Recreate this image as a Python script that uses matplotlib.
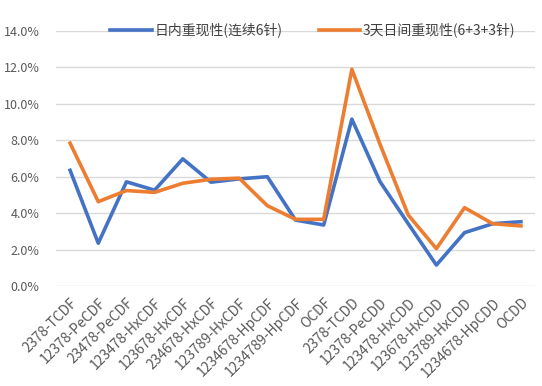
#!/usr/bin/env python3
import matplotlib
matplotlib.use("Agg")
import matplotlib.pyplot as plt
from matplotlib.ticker import PercentFormatter

plt.rcParams["font.family"] = ["Noto Sans CJK SC", "DejaVu Sans"]

congeners = [
    "2378-TCDF", "12378-PeCDF", "23478-PeCDF", "123478-HxCDF", "123678-HxCDF",
    "234678-HxCDF", "123789-HxCDF", "1234678-HpCDF", "1234789-HpCDF", "OCDF",
    "2378-TCDD", "12378-PeCDD", "123478-HxCDD", "123678-HxCDD", "123789-HxCDD",
    "1234678-HpCDD", "OCDD",
]
intra_day = [6.35, 2.35, 5.72, 5.26, 6.98, 5.70, 5.88, 6.0, 3.62, 3.35,
             9.16, 5.73, 3.42, 1.15, 2.93, 3.42, 3.53]
inter_day = [7.84, 4.63, 5.24, 5.14, 5.64, 5.86, 5.92, 4.41, 3.66, 3.66,
             11.9, 7.78, 3.9, 2.05, 4.3, 3.42, 3.3]
labels = ["日内重现性(连续6针)", "3天日间重现性(6+3+3针)"]

fig = plt.figure(figsize=(5.42, 3.86), dpi=100)
ax = fig.add_axes([56 / 542, 1 - 286 / 386, (535 - 56) / 542, (286 - 31) / 386])

x = range(len(congeners))
ax.plot(x, intra_day, color="#4472C4", lw=2.6, label=labels[0], solid_joinstyle="round")
ax.plot(x, inter_day, color="#ED7D31", lw=2.6, label=labels[1], solid_joinstyle="round")

ax.set_xlim(-0.5, len(congeners) - 0.5)
ax.set_ylim(0, 14)
ax.set_yticks(range(0, 15, 2))
ax.yaxis.set_major_formatter(PercentFormatter(decimals=1))
ax.grid(axis="y", color="#D9D9D9", lw=1)
ax.set_axisbelow(True)
for s in ax.spines.values():
    s.set_visible(False)
ax.tick_params(axis="both", length=0, labelcolor="#595959")
ax.tick_params(axis="y", pad=12, labelsize=9)
ax.set_xticks(list(x))
ax.set_xticklabels(congeners, rotation=45, ha="right", rotation_mode="anchor")
ax.tick_params(axis="x", pad=7, labelsize=10)

fig.legend(loc="center", bbox_to_anchor=(0.577, 1 - 30 / 386), ncol=2, frameon=False,
           fontsize=10, handlelength=3.0, columnspacing=2.6, handletextpad=0.2,
           labelcolor="#404040")

fig.savefig("out.png", dpi=100)
